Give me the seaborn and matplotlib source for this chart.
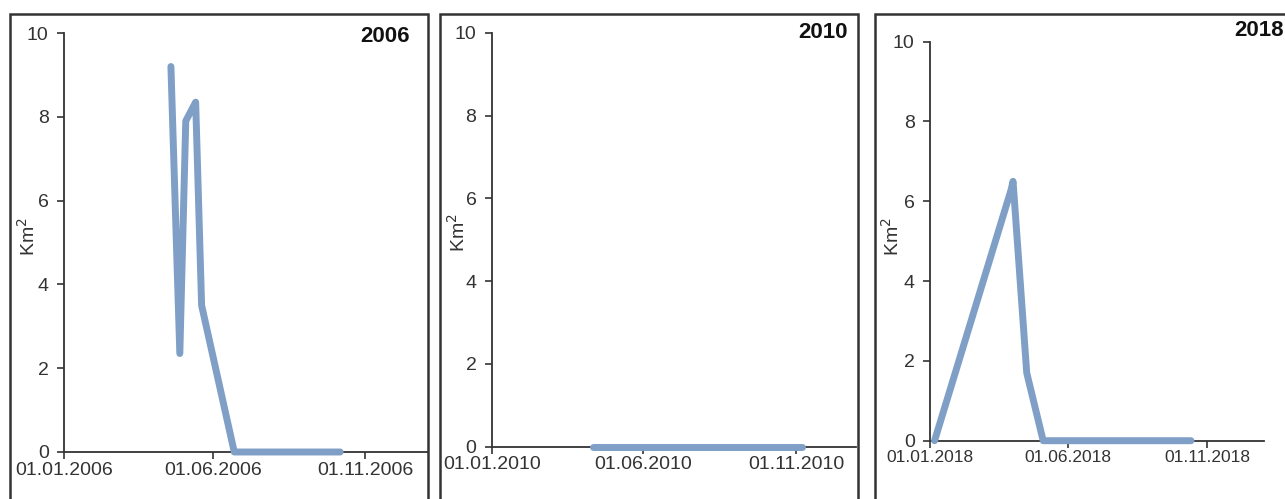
import pandas as pd
import matplotlib
matplotlib.use('Agg')
import matplotlib.pyplot as plt
import matplotlib.dates as mdates
from matplotlib.patches import Rectangle
import seaborn as sns

# data
dates_2006 = ['2006-04-19', '2006-04-28', '2006-05-04', '2006-05-14', '2006-05-20', '2006-06-22', '2006-10-07']
area_2006 = [9.2, 2.35, 7.9, 8.35, 3.5, 0.0, 0.0]

dates_2010 = ['2010-04-12', '2010-06-10', '2010-08-15', '2010-11-07']
area_2010 = [0.0, 0.0, 0.0, 0.0]

dates_2018 = ['2018-01-06', '2018-03-31', '2018-04-02', '2018-04-17', '2018-05-05', '2018-10-14']
area_2018 = [0.0, 6.3, 6.5, 1.7, 0.0, 0.0]

years = ['2006', '2010', '2018']
tick_md = ['01-01', '06-01', '11-01']

sns.set_style('white')
plt.rcParams['font.family'] = ['Liberation Sans', 'DejaVu Sans']

W, H = 1285, 499
fig = plt.figure(figsize=(12.85, 4.99), dpi=100)

# axes boxes in pixels: left, right, top(y=10), bottom(y=0), days shown
axes_px = [(64, 428, 33, 452, 367.7), (491.7, 856, 33, 446.7, 364), (930, 1264, 41.7, 440.7, 366)]
frames_px = [(10, 428), (440, 858), (875, 1300)]
ylab_px = [(28, 237), (458, 233), (892, 237)]
year_px = [(410, 36), (848, 33), (1284, 30)]
xlab_size = [14, 14, 12.5]

series = [(dates_2006, area_2006), (dates_2010, area_2010), (dates_2018, area_2018)]
line_color = '#7f9fc7'
text_color = '#333333'

for i, yr in enumerate(years):
    l, r, t, b, ndays = axes_px[i]
    ax = fig.add_axes([l / W, (H - b) / H, (r - l) / W, (b - t) / H])
    d, v = series[i]
    df = pd.DataFrame({'date': pd.to_datetime(d), 'km2': v})
    sns.lineplot(data=df, x='date', y='km2', ax=ax, color=line_color,
                 linewidth=5, solid_joinstyle='round', solid_capstyle='round',
                 clip_on=False, zorder=3)
    start = pd.Timestamp(f'{yr}-01-01')
    ax.set_xlim(start, start + pd.Timedelta(days=ndays))
    ax.set_ylim(0, 10)
    ax.set_yticks([0, 2, 4, 6, 8, 10])
    ax.set_xticks([pd.Timestamp(f'{yr}-{m}') for m in tick_md])
    ax.xaxis.set_major_formatter(mdates.DateFormatter('%d.%m.%Y'))
    ax.set_xlabel('')
    ax.set_ylabel('')
    ax.patch.set_alpha(0)
    for s in ['top', 'right']:
        ax.spines[s].set_visible(False)
    for s in ['left', 'bottom']:
        ax.spines[s].set_color(text_color)
        ax.spines[s].set_linewidth(1.3)
    ax.tick_params(axis='both', direction='out', length=5, width=1.2,
                   color=text_color, labelcolor=text_color, labelsize=14,
                   left=True, bottom=True)
    ax.tick_params(axis='x', pad=2, labelsize=xlab_size[i])
    ax.tick_params(axis='y', pad=6)

    fl, fr = frames_px[i]
    fig.add_artist(Rectangle((fl / W, -0.05), (fr - fl) / W, (H - 14) / H + 0.05,
                             transform=fig.transFigure, fill=False,
                             edgecolor=text_color, linewidth=1.8))
    yx, yy = ylab_px[i]
    fig.text(yx / W, (H - yy) / H, 'Km$^2$', rotation=90, ha='center', va='center',
             fontsize=14, color=text_color)
    tx, ty = year_px[i]
    fig.text(tx / W, (H - ty) / H, yr, ha='right', va='center', fontsize=16,
             fontweight='bold', color='#111111')

fig.savefig('out.png', dpi=100)
